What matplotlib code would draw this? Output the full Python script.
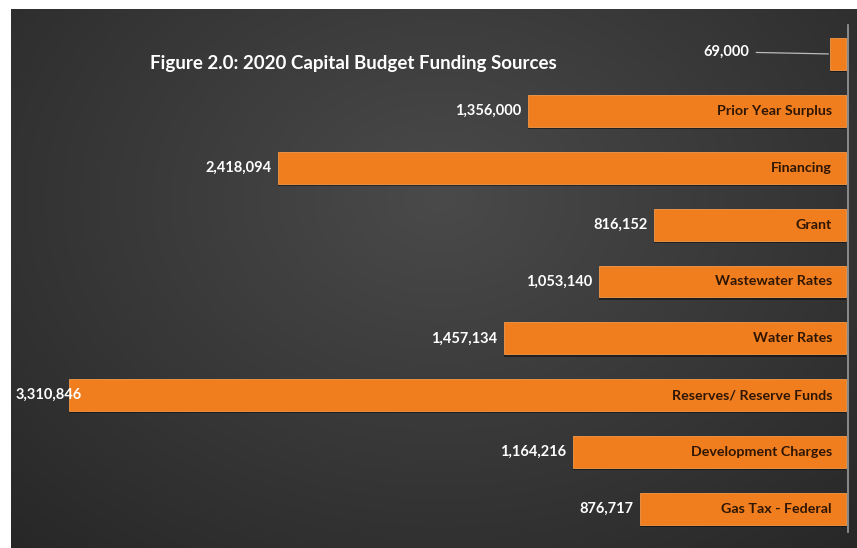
import numpy as np
import matplotlib
matplotlib.use('Agg')
import matplotlib.pyplot as plt

# funding sources, bottom to top
sources = ['Gas Tax - Federal', 'Development Charges', 'Reserves/ Reserve Funds',
           'Water Rates', 'Wastewater Rates', 'Grant', 'Financing',
           'Prior Year Surplus', '']
amounts = [876717, 1164216, 3310846, 1457134, 1053140, 816152, 2418094,
           1356000, 69000]
title = 'Figure 2.0: 2020 Capital Budget Funding Sources'

plt.rcParams['font.family'] = ['Lato', 'DejaVu Sans']

fig = plt.figure(figsize=(8.57, 5.48), dpi=100, facecolor='white')

# dark panel with a soft radial glow
bg = fig.add_axes([11/857, -0.01, 1, 1 - 9/548 + 0.01])
gx, gy = np.meshgrid(np.linspace(0, 1, 400), np.linspace(0, 1, 260))
r = np.sqrt(((gx - 0.5) / 0.75) ** 2 + ((gy - 0.35) / 0.9) ** 2)
shade = np.clip(0.29 - 0.14 * r, 0.15, 0.29)
bg.imshow(np.dstack([shade] * 3), aspect='auto', extent=[0, 1, 1, 0])
bg.set_axis_off()

ax = fig.add_axes([11/857, 0, 846/857, 539/548])
ax.patch.set_alpha(0)
ypos = np.arange(len(sources))

# drop shadow under each bar, then the bar itself
ax.barh(ypos - 0.04, amounts, height=0.56, color='black', alpha=0.45, zorder=2)
ax.barh(ypos, amounts, height=0.56, color='#F07D1E', edgecolor='#F59A4A',
        linewidth=0.6, zorder=3)

ax.set_xlim(3557700, -46870)
ax.set_ylim(-0.685, 8.79)
ax.axvline(-8500, ymin=0.03, ymax=0.97, color='#9a9a9a', lw=1.2, zorder=4)

for y, name, val in zip(ypos, sources, amounts):
    ax.annotate(name, xy=(0, y), xytext=(-10, 0), textcoords='offset points',
                ha='right', va='center', fontsize=10.3, fontweight='bold',
                color='#2e1603', zorder=5)
    txt = f'{val:,}'
    if val == max(amounts):
        # no room left of the widest bar: pin to the panel edge
        ax.annotate(txt, xy=(0, y), xycoords=('axes fraction', 'data'),
                    xytext=(3, 0), textcoords='offset points', ha='left',
                    va='center', fontsize=10.5, fontweight='bold', color='white',
                    zorder=5)
    elif val < 100000:
        # short bar gets a leader line out to its label
        ax.annotate(txt, xy=(val, y), xytext=(-58, 1.5),
                    textcoords='offset points', ha='right', va='center',
                    fontsize=10.5, fontweight='bold', color='white', zorder=5,
                    arrowprops=dict(arrowstyle='-', color='#bbbbbb', lw=0.9,
                                    shrinkA=3, shrinkB=1))
    else:
        ax.annotate(txt, xy=(val, y), xytext=(-5, 0),
                    textcoords='offset points', ha='right', va='center',
                    fontsize=10.5, fontweight='bold', color='white', zorder=5)

ax.set_axis_off()
fig.text(150/857, 1 - 64/548, title, ha='left', va='center', fontsize=13.5,
         fontweight='bold', color='white')

fig.savefig('out.png', dpi=100, facecolor='white')
